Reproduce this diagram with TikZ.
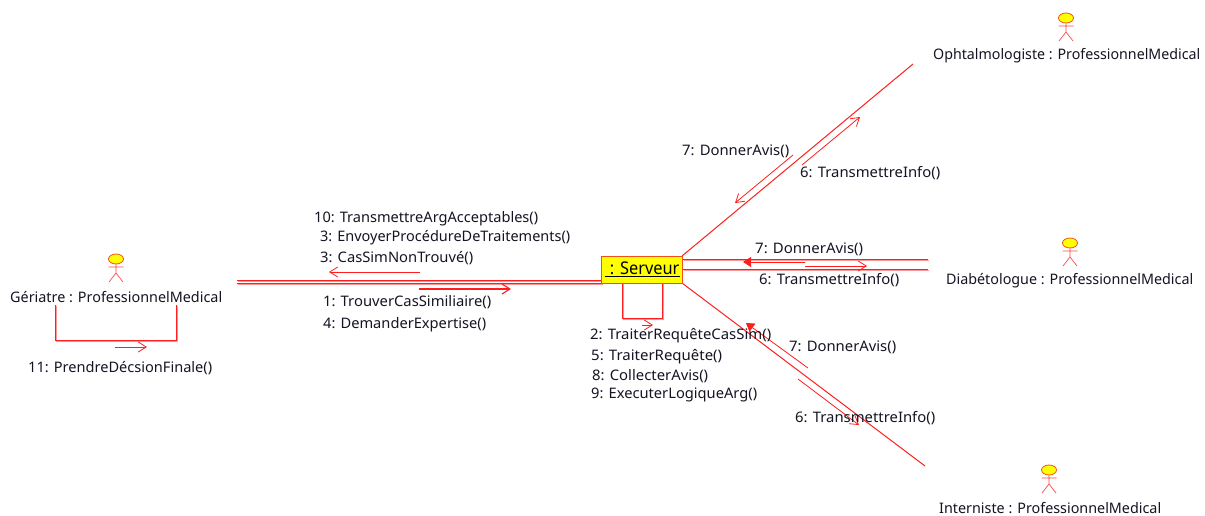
\documentclass[tikz,border=0pt]{standalone}
\usepackage{fontspec}
\setmainfont{Noto Sans}
\usetikzlibrary{arrows.meta,shapes.geometric}
\definecolor{lnk}{RGB}{255,30,30}
\definecolor{pale}{RGB}{255,150,150}
\definecolor{txt}{RGB}{20,20,35}
\definecolor{act}{RGB}{255,255,0}
\definecolor{edge}{RGB}{240,80,20}
\tikzset{
  x=1pt,y=-1pt,
  lbl/.style={anchor=west,inner sep=0pt,text=txt,font=\fontsize{14.5}{16}\selectfont},
  link/.style={draw=lnk,line width=1pt},
  linkaxis/.style={draw=lnk,line width=1pt,preaction={draw=pale,line width=1pt,transform canvas={shift={(1pt,-1pt)}}}},
  msg/.style={draw=lnk,line width=0.8pt,-{Straight Barb[length=8pt,width=10pt,line width=0.8pt]}},
  msgb/.style={draw=lnk,line width=1.1pt,-{Straight Barb[length=8pt,width=10pt,line width=1.1pt]}},
  msgf/.style={draw=lnk,line width=0.8pt,-{Triangle[length=8pt,width=10pt,fill=lnk]}},
  objbox/.style={draw=edge,fill=act,line width=1pt,minimum width=81pt,minimum height=27pt,inner sep=0pt,text=black,font=\fontsize{17.5}{19}\selectfont},
  actorpart/.style={draw=lnk!80!white,line width=0.7pt},
  head/.style={ellipse,draw=edge,fill=act,line width=0.8pt,minimum width=15pt,minimum height=10pt,inner sep=0pt},
}
\newcommand{\fitw}[2]{\resizebox{#1pt}{\height}{#2}}
\newcommand{\actorfig}[3]{% name, x, head y
  \node[head] (#1h) at (#2,#3) {};
  \coordinate (#1n) at (#2,#3+5);
  \coordinate (#1p) at (#2,#3+14);
  \coordinate (#1a) at (#2-7.5,#3+8);
  \coordinate (#1b) at (#2+7.5,#3+8);
  \coordinate (#1l) at (#2-7,#3+23);
  \coordinate (#1r) at (#2+7,#3+23);
  \draw[actorpart] (#1h) -- (#1p) (#1a) -- (#1b) (#1l) -- (#1p) -- (#1r);
}
\begin{document}
\begin{tikzpicture}
\useasboundingbox (0,0) rectangle (1205,516);
% actors
\actorfig{ger}{116}{259}
\actorfig{oph}{1066}{18}
\actorfig{dia}{1070}{243}
\actorfig{int}{1049}{470}
% actor labels
\node[lbl] (gerl) at (10,297) {\fitw{212}{Gériatre : ProfessionnelMedical}};
\node[lbl] (ophl) at (933,56) {\fitw{267}{Ophtalmologiste : ProfessionnelMedical}};
\node[lbl] (dial) at (946,281) {\fitw{247}{Diabétologue : ProfessionnelMedical}};
\node[lbl] (intl) at (939,508) {\fitw{222}{Interniste : ProfessionnelMedical}};
% link ends
\coordinate (g1) at (237,280.5); \coordinate (s1) at (601.5,280.5);
\coordinate (g2) at (237,283.5); \coordinate (s2) at (601.5,283.5);
\coordinate (o1) at (913,64);    \coordinate (so) at (682,256);
\coordinate (d1) at (928,259.5); \coordinate (sd1) at (682.5,259.5);
\coordinate (d2) at (928,269.5); \coordinate (sd2) at (682.5,269.5);
\coordinate (i1) at (925,466);   \coordinate (si) at (682,283);
\draw[linkaxis] (g1) -- (s1);
\draw[linkaxis] (g2) -- (s2);
\draw[link] (so) -- (o1);
\draw[linkaxis] (sd1) -- (d1);
\draw[linkaxis] (sd2) -- (d2);
\draw[link] (si) -- (i1);
% self loops
\coordinate (sl1) at (622.5,283); \coordinate (sl2) at (662.5,283);
\coordinate (gl1) at (55.5,305);  \coordinate (gl2) at (176.5,305);
\draw[linkaxis] (sl1) -- (622.5,318.5) -- (662.5,318.5) -- (sl2);
\draw[linkaxis] (gl1) -- (55.5,340.5) -- (176.5,340.5) -- (gl2);
% server (over the ends of its links)
\node[objbox] (srv) at (642,269.5) {\fitw{75}{\underline{\,\,: Serveur}}};
% message arrows
\coordinate (ma1) at (420,272); \coordinate (mb1) at (329,272);
\coordinate (ma2) at (419,289); \coordinate (mb2) at (511,289);
\coordinate (ma3) at (115,347); \coordinate (mb3) at (147,347);
\coordinate (ma4) at (642,325); \coordinate (mb4) at (653,325);
\coordinate (ma5) at (805,262); \coordinate (mb5) at (743,262);
\coordinate (ma6) at (805,266); \coordinate (mb6) at (867,266);
\coordinate (ma7) at (808,368); \coordinate (mb7) at (746,323);
\coordinate (ma8) at (798,379); \coordinate (mb8) at (859,425);
\coordinate (ma9) at (793,155); \coordinate (mb9) at (735,203);
\coordinate (ma10) at (802,165); \coordinate (mb10) at (860,117);
\draw[msg] (ma1) -- (mb1);
\draw[msgb] (ma2) -- (mb2);
\draw[msg] (ma3) -- (mb3);
\draw[msg] (ma4) -- (mb4);
\draw[msgf] (ma5) -- (mb5);
\draw[msg] (ma6) -- (mb6);
\draw[msgf] (ma7) -- (mb7);
\draw[msg] (ma8) -- (mb8);
\draw[msg] (ma9) -- (mb9);
\draw[msg] (ma10) -- (mb10);
% message labels
\node[lbl] (t1) at (28,368) {\fitw{184}{11: PrendreDécsionFinale()}};
\node[lbl] (t2) at (314,219) {\fitw{224}{10: TransmettreArgAcceptables()}};
\node[lbl] (t3) at (320,238) {\fitw{250}{3: EnvoyerProcédureDeTraitements()}};
\node[lbl] (t4) at (320,258) {\fitw{153}{3: CasSimNonTrouvé()}};
\node[lbl] (t5) at (323,302) {\fitw{168}{1: TrouverCasSimiliaire()}};
\node[lbl] (t6) at (323,325) {\fitw{163}{4: DemanderExpertise()}};
\node[lbl] (t7) at (590,336) {\fitw{181}{2: TraiterRequêteCasSim()}};
\node[lbl] (t8) at (591,357) {\fitw{131}{5: TraiterRequête()}};
\node[lbl] (t9) at (592,376) {\fitw{116}{8: CollecterAvis()}};
\node[lbl] (t10) at (591,395) {\fitw{166}{9: ExecuterLogiqueArg()}};
\node[lbl] (t11) at (682,151) {\fitw{107}{7: DonnerAvis()}};
\node[lbl] (t12) at (800,173) {\fitw{140}{6: TransmettreInfo()}};
\node[lbl] (t13) at (755,249) {\fitw{108}{7: DonnerAvis()}};
\node[lbl] (t14) at (759,280) {\fitw{140}{6: TransmettreInfo()}};
\node[lbl] (t15) at (789,347) {\fitw{107}{7: DonnerAvis()}};
\node[lbl] (t16) at (795,418) {\fitw{140}{6: TransmettreInfo()}};
\end{tikzpicture}
\end{document}
